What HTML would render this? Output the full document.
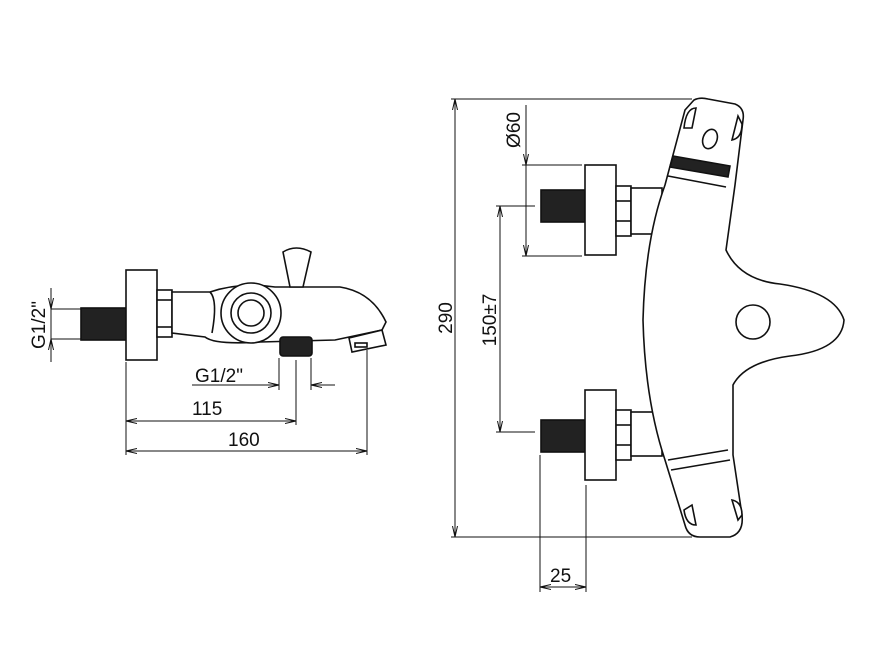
<!DOCTYPE html>
<html><head><meta charset="utf-8"><style>
html,body{margin:0;padding:0;background:#fff;}
svg{display:block;}
text{font-family:"Liberation Sans",sans-serif;font-size:19px;fill:#111;}
</style></head><body>
<svg width="887" height="650" viewBox="0 0 887 650" xmlns="http://www.w3.org/2000/svg">
<defs>
<marker id="a" markerWidth="12" markerHeight="8" refX="11" refY="4" orient="auto-start-reverse" markerUnits="userSpaceOnUse">
<path d="M0,1.5 L11,4 L0,6.5" fill="none" stroke="#111" stroke-width="1"/></marker>
</defs>
<g stroke="#111" stroke-width="1" fill="none">
<!-- LEFT VIEW dims -->
<line x1="51" y1="288" x2="51" y2="362"/>
<line x1="51" y1="288" x2="51" y2="309" marker-end="url(#a)"/>
<line x1="51" y1="362" x2="51" y2="339" marker-end="url(#a)"/>
<line x1="51" y1="309" x2="82" y2="309"/>
<line x1="51" y1="339" x2="82" y2="339"/>
<line x1="192" y1="385" x2="279" y2="385" marker-end="url(#a)"/>
<line x1="335" y1="385" x2="311" y2="385" marker-end="url(#a)"/>
<line x1="279" y1="358" x2="279" y2="390"/>
<line x1="311" y1="358" x2="311" y2="390"/>
<line x1="126" y1="421" x2="296" y2="421" marker-start="url(#a)" marker-end="url(#a)"/>
<line x1="296" y1="360" x2="296" y2="425"/>
<line x1="126" y1="451" x2="367" y2="451" marker-start="url(#a)" marker-end="url(#a)"/>
<line x1="126" y1="362" x2="126" y2="455"/>
<line x1="367" y1="350" x2="367" y2="455"/>
</g>
<g stroke="#111" stroke-width="1.6" fill="#fff">
<!-- left view body -->
<rect x="81" y="308" width="46" height="32" fill="#222"/>
<rect x="126" y="270" width="31" height="90"/>
<rect x="157" y="290" width="15" height="47"/>
<line x1="157" y1="300" x2="172" y2="300"/><line x1="157" y1="327" x2="172" y2="327"/>
<path d="M172,292 L210,292 Q240,282 275,287 L340,287 Q372,292 386,322 L382,330 L335,340 L260,342 Q215,345 205,337 L172,333 Z"/>
<path d="M210,292 Q218,300 212,333" />
<path d="M349,338 L382,330 L386,345 L352,352 Z"/>
<rect x="355" y="343" width="12" height="4"/>
<circle cx="251" cy="313" r="30"/>
<circle cx="251" cy="313" r="20"/>
<circle cx="251" cy="313" r="13"/>
<path d="M283,252 Q296,244 311,252 L303,287 L290,287 Z"/>
<rect x="280" y="337" width="32" height="19" rx="3" fill="#222"/>
</g>
<g stroke="#111" stroke-width="1" fill="none">
<!-- RIGHT VIEW dims -->
<line x1="455" y1="99" x2="455" y2="537" marker-start="url(#a)" marker-end="url(#a)"/>
<line x1="451" y1="99" x2="692" y2="99"/>
<line x1="451" y1="537" x2="692" y2="537"/>
<line x1="526" y1="105" x2="526" y2="256"/>
<line x1="526" y1="140" x2="526" y2="165" marker-end="url(#a)"/>
<line x1="526" y1="240" x2="526" y2="256" marker-end="url(#a)"/>
<line x1="522" y1="165" x2="582" y2="165"/>
<line x1="522" y1="256" x2="582" y2="256"/>
<line x1="500" y1="206" x2="500" y2="432" marker-start="url(#a)" marker-end="url(#a)"/>
<line x1="496" y1="206" x2="535" y2="206"/>
<line x1="496" y1="432" x2="535" y2="432"/>
<line x1="540" y1="455" x2="540" y2="592"/>
<line x1="586" y1="485" x2="586" y2="592"/>
<line x1="540" y1="587" x2="586" y2="587" marker-start="url(#a)" marker-end="url(#a)"/>
</g>
<g stroke="#111" stroke-width="1.6" fill="#fff">
<rect x="541" y="190" width="44" height="32" fill="#222"/>
<rect x="585" y="165" width="31" height="90"/>
<rect x="616" y="186" width="15" height="50"/>
<line x1="616" y1="201" x2="631" y2="201"/><line x1="616" y1="221" x2="631" y2="221"/>
<rect x="631" y="188" width="31" height="46"/>
<rect x="541" y="420" width="44" height="32" fill="#222"/>
<rect x="585" y="390" width="31" height="90"/>
<rect x="616" y="410" width="15" height="50"/>
<line x1="616" y1="425" x2="631" y2="425"/><line x1="616" y1="445" x2="631" y2="445"/>
<rect x="631" y="412" width="31" height="44"/>
<path d="M694,100 Q700,97 708,99 L735,104 Q745,108 743,120 L735,185 L726,250 Q740,280 780,284 Q835,292 844,320 Q842,350 790,356 Q745,362 733,385 L733,455 L742,515 Q744,533 730,537 L700,537 Q688,537 685,525 L665,460 Q645,400 643,320 Q645,240 665,185 L685,110 Z"/>
<circle cx="753" cy="322" r="17"/>
<path d="M673,156 L730,166 L728,177 L670,167 Z" fill="#222"/>
<line x1="668" y1="176" x2="726" y2="187"/>
<path d="M684,128 Q686,108 696,108 L692,128 Z"/>
<path d="M732,140 Q742,138 742,124 L738,116 Z"/>
<ellipse cx="710" cy="139" rx="7" ry="10" transform="rotate(20 710 139)"/>
<line x1="668" y1="460" x2="728" y2="450"/>
<line x1="671" y1="470" x2="730" y2="460"/>
<path d="M684,510 Q686,525 696,525 L692,505 Z"/>
<path d="M732,500 Q742,502 742,515 L738,520 Z"/>
</g>
<text x="195" y="382">G1/2"</text>
<text x="192" y="415">115</text>
<text x="228" y="446">160</text>
<text transform="translate(45,325) rotate(-90)" text-anchor="middle">G1/2"</text>
<text transform="translate(452,318) rotate(-90)" text-anchor="middle">290</text>
<text transform="translate(496,320) rotate(-90)" text-anchor="middle">150±7</text>
<text transform="translate(520,130) rotate(-90)" text-anchor="middle">Ø60</text>
<text x="550" y="582">25</text>
</svg>
</body></html>
